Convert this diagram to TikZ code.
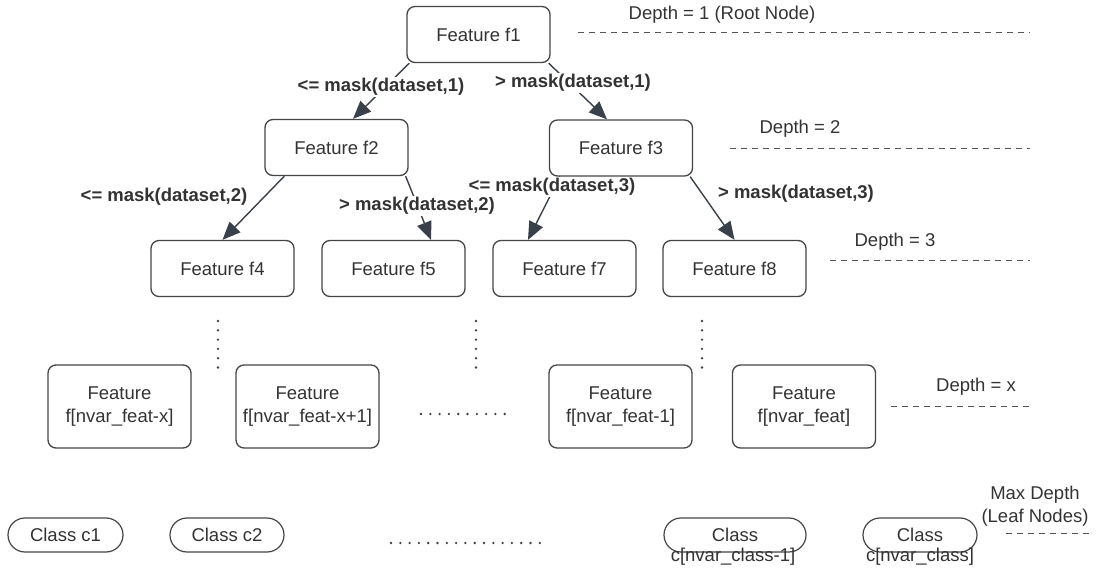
\documentclass[tikz,border=0pt]{standalone}
\usepackage{fontspec}
\setmainfont{Liberation Sans}
\usetikzlibrary{arrows.meta,shapes.misc}
\definecolor{txt}{HTML}{333333}
\definecolor{edgec}{HTML}{3A4049}
\definecolor{boxc}{HTML}{454545}
\definecolor{dashc}{HTML}{555555}
\begin{document}
\begin{tikzpicture}[x=1pt,y=-1pt,
 every node/.style={font=\fontsize{18.5}{23}\selectfont, text=txt},
 feat/.style={draw=boxc, line width=1.3pt, rounded corners=8pt, minimum width=143pt, minimum height=56pt, align=center, inner sep=0pt},
 feattwo/.style={feat, minimum height=83pt},
 cls/.style={draw=boxc, line width=1.2pt, rounded rectangle, minimum height=34pt, inner sep=0pt},
 lab/.style={font=\bfseries\fontsize{18.5}{23}\selectfont, fill=white, inner sep=1pt},
 arr/.style={draw=edgec, line width=1.4pt, -{Triangle[length=18pt,width=15pt]}},
 depthline/.style={draw=dashc, line width=1pt, dash pattern=on 6pt off 5pt},
 dotline/.style={draw=edgec, line width=2.6pt, line cap=round, dash pattern=on 0pt off 9.3pt}
]
\useasboundingbox (0,0) rectangle (1096,572);

% feature nodes
\node[feat] (f1) at (478.5,34.5) {Feature f1};
\node[feat] (f2) at (336.5,147.5) {Feature f2};
\node[feat] (f3) at (621,148) {Feature f3};
\node[feat] (f4) at (222.5,268.5) {Feature f4};
\node[feat] (f5) at (393.5,268.5) {Feature f5};
\node[feat] (f7) at (564.5,268.5) {Feature f7};
\node[feat] (f8) at (734.5,268.5) {Feature f8};

\node[feattwo] (fx) at (119.5,406.5) {Feature\\f[nvar\_feat-x]};
\node[feattwo] (fxa) at (307.5,406.5) {Feature\\f[nvar\_feat-x+1]};
\node[feattwo] (fm) at (620.5,406.5) {Feature\\f[nvar\_feat-1]};
\node[feattwo] (fn) at (804,406.5) {Feature\\f[nvar\_feat]};

% class nodes
\node[cls, minimum width=115pt] (c1) at (65.5,535) {Class c1};
\node[cls, minimum width=114pt] (c2) at (227,535) {Class c2};
\node[cls, minimum width=142pt] (cm) at (735,535) {Class};
\node[cls, minimum width=114pt] (cn) at (920,535) {Class};
\node[inner sep=0pt] (cmt) at (733,557) {c[nvar\_class-1]};
\node[inner sep=0pt] (cnt) at (920,557) {c[nvar\_class]};

% edges
\draw[arr] ([xshift=3pt]f1.south west) -- ([xshift=16.5pt]f2.north);
\draw[arr] ([xshift=-2pt]f1.south east) -- ([xshift=-14pt]f3.north);
\draw[arr] ([xshift=20pt]f2.south west) -- (f4.north);
\draw[arr] ([xshift=-3pt]f2.south east) -- ([xshift=37.5pt]f5.north);
\draw[arr] ([xshift=11pt]f3.south west) -- ([xshift=-36.5pt]f7.north);
\draw[arr] ([xshift=-3pt]f3.south east) -- (f8.north);

% edge labels
\node[lab] (l1a) at (381,87) {<= mask(dataset,1)};
\node[lab] (l1b) at (573,83) {> mask(dataset,1)};
\node[lab] (l2a) at (164,197) {<= mask(dataset,2)};
\node[lab] (l2b) at (417,206) {> mask(dataset,2)};
\node[lab] (l3a) at (552,187) {<= mask(dataset,3)};
\node[lab] (l3b) at (796,194) {> mask(dataset,3)};

% ellipsis dots
\coordinate (v1a) at (218,321); \coordinate (v1b) at (218,369);
\coordinate (v2a) at (476,321); \coordinate (v2b) at (476,369);
\coordinate (v3a) at (702,321); \coordinate (v3b) at (702,369);
\draw[dotline] (v1a) -- (v1b);
\draw[dotline] (v2a) -- (v2b);
\draw[dotline] (v3a) -- (v3b);
\coordinate (h1a) at (421,414); \coordinate (h1b) at (512,414);
\draw[dotline] (h1a) -- (h1b);
\coordinate (h2a) at (391,543); \coordinate (h2b) at (543,543);
\draw[dotline] (h2a) -- (h2b);

% depth labels
\node (d1) at (722,15) {Depth = 1 (Root Node)};
\node (d2) at (800,129) {Depth = 2};
\node (d3) at (895,242) {Depth = 3};
\node (dx) at (976,387) {Depth = x};
\node[align=center] (dm) at (1035,506) {Max Depth\\(Leaf Nodes)};
\coordinate (d1a) at (578,33); \coordinate (d1b) at (1030,33);
\coordinate (d2a) at (730,149); \coordinate (d2b) at (1030,149);
\coordinate (d3a) at (830,261); \coordinate (d3b) at (1030,261);
\coordinate (dxa) at (891,406); \coordinate (dxb) at (1033,406);
\coordinate (dma) at (1006,533); \coordinate (dmb) at (1090,533);
\draw[depthline] (d1a) -- (d1b);
\draw[depthline] (d2a) -- (d2b);
\draw[depthline] (d3a) -- (d3b);
\draw[depthline] (dxa) -- (dxb);
\draw[depthline] (dma) -- (dmb);
\end{tikzpicture}
\end{document}
